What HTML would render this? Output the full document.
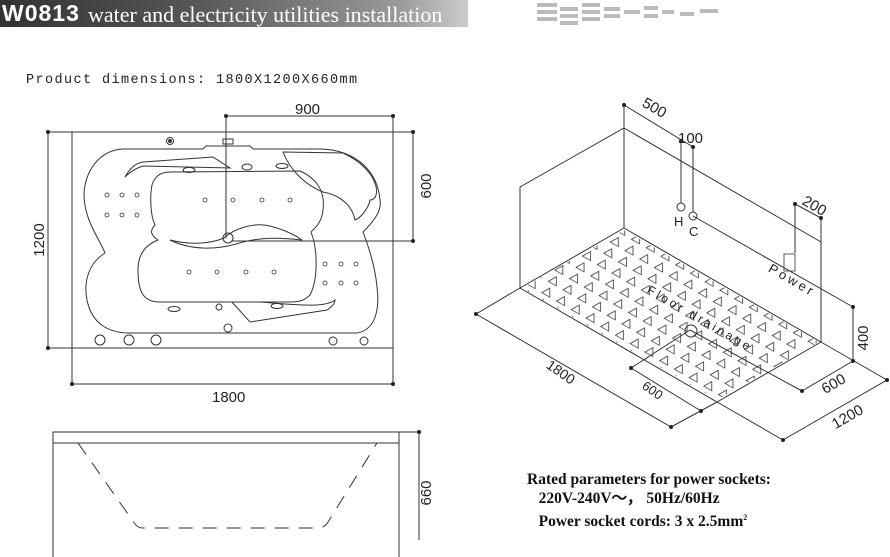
<!DOCTYPE html>
<html><head><meta charset="utf-8"><style>
body{margin:0;width:890px;height:557px;background:#fff;overflow:hidden;position:relative;font-family:"Liberation Sans",sans-serif}
.hdr{position:absolute;left:0;top:0;width:468px;height:27px;background:linear-gradient(90deg,#333 0%,#555 40%,#999 85%,#ccc 100%)}
.hdr .w{position:absolute;left:2px;top:0px;color:#fff;font:bold 23px "Liberation Sans Narrow","Liberation Sans",sans-serif;letter-spacing:1px}
.hdr .t{position:absolute;left:88px;top:2px;color:#fff;font:22px "Liberation Serif",serif;white-space:nowrap}
.info{position:absolute;left:527px;top:470px;font:bold 15.5px "Liberation Serif",serif;line-height:19px;color:#111}
</style></head><body>
<div class="hdr"><span class="w">W0813</span><span class="t">water and electricity utilities installation</span></div>
<svg width="890" height="557" style="position:absolute;left:0;top:0" font-family="Liberation Sans, sans-serif">
<g fill="#bbb">
<rect x="537" y="3" width="20" height="4"/><rect x="537" y="10" width="20" height="4"/><rect x="537" y="17" width="20" height="4"/>
<rect x="560" y="7" width="18" height="4"/><rect x="560" y="14" width="18" height="4"/><rect x="560" y="21" width="18" height="4"/>
<rect x="582" y="3" width="18" height="4"/><rect x="582" y="10" width="18" height="4"/><rect x="582" y="17" width="18" height="4"/>
<rect x="604" y="7" width="16" height="4"/><rect x="604" y="14" width="16" height="4"/>
<rect x="624" y="10" width="16" height="4"/><rect x="644" y="6" width="14" height="4"/><rect x="644" y="14" width="14" height="4"/>
<rect x="662" y="10" width="12" height="4"/><rect x="680" y="12" width="14" height="4"/><rect x="700" y="9" width="18" height="4"/>
</g>
<text x="26" y="83" font-size="13.5" letter-spacing="1.4" font-family="Liberation Mono, monospace" fill="#222">Product dimensions: 1800X1200X660mm</text>
<g stroke="#333" stroke-width="1" fill="none">
<rect x="72" y="132" width="321" height="216"/>
<line x1="48" y1="132" x2="72" y2="132"/><line x1="48" y1="348" x2="72" y2="348"/><line x1="48" y1="132" x2="48" y2="348"/>
<line x1="72" y1="348" x2="72" y2="384"/><line x1="393" y1="348" x2="393" y2="384"/><line x1="72" y1="384" x2="393" y2="384"/>
<line x1="226" y1="116" x2="393" y2="116"/><line x1="393" y1="116" x2="393" y2="132"/><line x1="226" y1="116" x2="226" y2="238"/>
<line x1="393" y1="132" x2="413" y2="132"/><line x1="232" y1="241" x2="413" y2="241"/><line x1="413" y1="132" x2="413" y2="241"/>
<path d="M123,149 C95,150 80,180 85,205 C88,225 100,240 105,253 C90,262 83,280 87,300 C92,325 110,333 130,333 L357,333 C375,330 380,310 377,287 C375,265 368,245 363,232 C375,220 382,210 380,200 C378,175 360,150 320,149 L253,149 L250,146 L206,146 L203,149 Z"/>
<path d="M170,172 L300,171 C320,180 325,195 323,210 C322,222 315,228 311,232 C318,250 318,280 310,295 C305,300 300,302 290,302 L160,302 C142,302 138,290 138,270 C138,255 145,245 158,240 C150,235 150,230 155,225 C150,215 150,195 152,185 C155,175 162,172 170,172 Z"/>
<path d="M125,177 C130,168 136,163 143,162 L213,157 L230,168 L143,166 C136,168 130,172 125,177 Z"/>
<path d="M283,152 L343,153 C380,170 382,200 370,200 C368,210 360,218 355,220 C352,205 340,195 323,192 C305,185 290,170 283,152 Z"/>
<path d="M170,240 C190,245 210,244 224,238 C235,228 255,222 270,226 C285,230 295,235 302,240 C285,238 260,236 236,244 C215,250 190,250 170,240 Z"/>
<path d="M232,302 L250,322 L327,310 C333,306 335,303 335,300 C325,308 300,305 260,302 Z"/>
<circle cx="228" cy="238" r="5"/>
<circle cx="170" cy="141" r="3.5"/><circle cx="170" cy="141" r="1.5" fill="#333"/>
<rect x="223" y="139" width="10" height="5"/>
<ellipse cx="247" cy="167" rx="5" ry="3"/>
<ellipse cx="189" cy="170" rx="6" ry="2.5"/><ellipse cx="282" cy="166" rx="6" ry="2.5"/>
<ellipse cx="174" cy="309" rx="6" ry="2.5"/><ellipse cx="277" cy="306" rx="6" ry="2.5"/>
<circle cx="219" cy="307" r="3"/><circle cx="228" cy="328" r="4"/>
<circle cx="100" cy="340" r="5"/><circle cx="129" cy="340" r="5"/><circle cx="156" cy="340" r="5"/>
<circle cx="333" cy="341" r="4"/><circle cx="364" cy="341" r="4"/>
<g stroke-width="0.8">
<circle cx="107" cy="195" r="2"/><circle cx="122" cy="195" r="2"/><circle cx="137" cy="195" r="2"/>
<circle cx="107" cy="215" r="2"/><circle cx="122" cy="215" r="2"/><circle cx="137" cy="215" r="2"/>
<circle cx="205" cy="200" r="2"/><circle cx="233" cy="200" r="2"/><circle cx="262" cy="200" r="2"/><circle cx="290" cy="200" r="2"/>
<circle cx="189" cy="272" r="2"/><circle cx="217" cy="272" r="2"/><circle cx="246" cy="272" r="2"/><circle cx="274" cy="272" r="2"/>
<circle cx="325" cy="264" r="2"/><circle cx="341" cy="264" r="2"/><circle cx="356" cy="264" r="2"/>
<circle cx="325" cy="283" r="2"/><circle cx="341" cy="283" r="2"/><circle cx="356" cy="283" r="2"/>
</g>
<path d="M53,557 V432 H399 V557"/><line x1="53" y1="443" x2="399" y2="443"/>
<line x1="399" y1="432" x2="419" y2="432"/><line x1="419" y1="432" x2="419" y2="540"/>
<path d="M78,443 L135,524 Q138,528 143,528 L320,528 Q325,527 328,522 L377,443" stroke-dasharray="14,10"/>
<path d="M520,288 V187 L624,128 V228 L520,288"/>
<path d="M624,128 L821,242 V342 L624,228"/><line x1="624" y1="105" x2="624" y2="128"/>
<path d="M520,288 L717,402 L821,342"/>
<line x1="520" y1="288" x2="476" y2="314"/><line x1="476" y1="314" x2="671" y2="427"/><line x1="717" y1="402" x2="671" y2="427"/>
<line x1="717" y1="402" x2="783" y2="440"/><line x1="783" y1="440" x2="887" y2="380"/><line x1="821" y1="342" x2="887" y2="380"/>
<line x1="853" y1="361" x2="802" y2="391"/><line x1="690" y1="330" x2="802" y2="391"/>
<line x1="690" y1="330" x2="631" y2="368"/><line x1="631" y1="368" x2="701" y2="411"/>
<line x1="853" y1="307" x2="853" y2="361"/><line x1="693" y1="216" x2="853" y2="307"/>
<line x1="624" y1="105" x2="693" y2="147"/>
<line x1="681" y1="141" x2="681" y2="203"/><line x1="693" y1="147" x2="693" y2="212"/>
<line x1="795" y1="204" x2="821" y2="218"/><line x1="795" y1="204" x2="795" y2="253"/><line x1="821" y1="218" x2="821" y2="242"/>
<circle cx="681" cy="207" r="4"/><circle cx="693" cy="216" r="4"/>
<rect x="784" y="254" width="11" height="17" stroke-width="0.8"/>
<circle cx="691" cy="331" r="6"/>
</g>
<g fill="#222">
<circle cx="48" cy="132" r="2"/><circle cx="48" cy="348" r="2"/><circle cx="72" cy="384" r="2"/><circle cx="393" cy="384" r="2"/>
<circle cx="226" cy="116" r="2"/><circle cx="393" cy="116" r="2"/><circle cx="413" cy="132" r="2"/><circle cx="413" cy="241" r="2"/>
<circle cx="419" cy="432" r="2"/>
<circle cx="624" cy="105" r="2"/><circle cx="681" cy="141" r="2"/><circle cx="693" cy="147" r="2"/><circle cx="795" cy="204" r="2"/><circle cx="821" cy="218" r="2"/>
<circle cx="476" cy="314" r="2"/><circle cx="671" cy="427" r="2"/><circle cx="783" cy="440" r="2"/><circle cx="887" cy="380" r="2"/>
<circle cx="853" cy="307" r="2"/><circle cx="853" cy="361" r="2"/><circle cx="802" cy="391" r="2"/><circle cx="631" cy="368" r="2"/><circle cx="701" cy="411" r="2"/>
</g>
<defs>
<pattern id="tri" width="17" height="13" patternUnits="userSpaceOnUse" patternTransform="rotate(30)">
<path d="M3,6.5 L11,2 L11,11 Z" fill="none" stroke="#333" stroke-width="0.8" transform="rotate(-30 7 6.5)"/>
</pattern>
<clipPath id="fl"><polygon points="624,230 819,342 717,400 522,288"/></clipPath>
</defs>
<rect x="500" y="220" width="340" height="200" fill="url(#tri)" clip-path="url(#fl)"/>
<g fill="#222" font-size="15">
<text x="295" y="114">900</text>
<text x="212" y="402">1800</text>
<text transform="translate(44,240) rotate(-90)" text-anchor="middle">1200</text>
<text transform="translate(431,186) rotate(-90)" text-anchor="middle">600</text>
<text transform="translate(431,493) rotate(-90)" text-anchor="middle">660</text>
<text transform="translate(652,112) rotate(30)" text-anchor="middle">500</text>
<text x="678" y="143">100</text>
<text transform="translate(812,210) rotate(30)" text-anchor="middle">200</text>
<text x="674" y="226" font-size="13">H</text><text x="689" y="236" font-size="13">C</text>
<text transform="translate(790,284) rotate(30)" text-anchor="middle" font-size="13" letter-spacing="3">Power</text>
<text transform="translate(698,322) rotate(30)" text-anchor="middle" font-size="12" letter-spacing="3">Floor drainage</text>
<text transform="translate(868,338) rotate(-90)" text-anchor="middle">400</text>
<text transform="translate(836,388) rotate(-30)" text-anchor="middle">600</text>
<text transform="translate(850,421) rotate(-30)" text-anchor="middle">1200</text>
<text transform="translate(558,376) rotate(35)" text-anchor="middle" font-size="14">1800</text>
<text transform="translate(650,394) rotate(35)" text-anchor="middle" font-size="13">600</text>
</g>
</svg>
<div class="info">Rated parameters for power sockets:<br>&nbsp;&nbsp;&nbsp;220V-240V～，&nbsp;50Hz/60Hz<br>&nbsp;&nbsp;&nbsp;Power socket cords: 3 x 2.5mm<sup style="font-size:8px">2</sup></div>
</body></html>
